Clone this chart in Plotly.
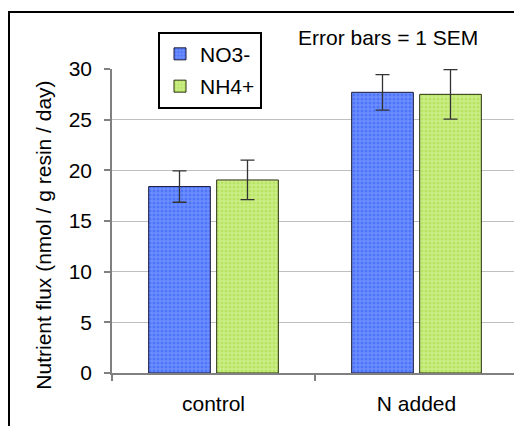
import plotly.graph_objects as go

categories = ["control", "N added"]
no3_values = [18.4, 27.7]
no3_err = [1.55, 1.75]
nh4_values = [19.05, 27.5]
nh4_err = [1.95, 2.45]
y_ticks = [0, 5, 10, 15, 20, 25, 30]

W, H = 514, 426
L, R, T, B = 112, 0, 69.3, 52.7
pw, ph = W - L - R, H - T - B

FONT = "Liberation Sans, Arial, sans-serif"

fig = go.Figure()
fig.add_trace(go.Bar(
    name="NO3-", x=categories, y=no3_values,
    marker=dict(color="#3f66f6", line=dict(color="#1a1a3a", width=1),
                pattern=dict(shape=".", size=4, solidity=0.45,
                             fgcolor="#2f5af5", bgcolor="#6d8efd")),
    error_y=dict(type="data", array=no3_err, color="#333333", thickness=1.3, width=7),
    legendgroup="a",
))
fig.add_trace(go.Bar(
    name="NH4+", x=categories, y=nh4_values,
    marker=dict(color="#b8e460", line=dict(color="#2a3010", width=1),
                pattern=dict(shape=".", size=4, solidity=0.45,
                             fgcolor="#a6dc3c", bgcolor="#cbed88")),
    error_y=dict(type="data", array=nh4_err, color="#333333", thickness=1.3, width=7),
    legendgroup="b",
))

x_end = 1.5 - 4 / 203.0

fig.update_layout(
    width=W, height=H,
    margin=dict(l=L, r=R, t=T, b=B, pad=0),
    paper_bgcolor="white", plot_bgcolor="white",
    font=dict(family=FONT, size=21, color="black"),
    barmode="group", bargap=0.33, bargroupgap=0.093,
    showlegend=True,
    legend=dict(
        x=(158 - L) / pw, y=(T + ph - 32) / ph, xanchor="left", yanchor="top",
        bordercolor="black", borderwidth=2, bgcolor="white",
        font=dict(family=FONT, size=21, color="black"),
        tracegroupgap=2, itemwidth=30, entrywidth=50,
    ),
    xaxis=dict(
        range=[-0.5, x_end], showgrid=False, showline=True, linecolor="#808080", linewidth=1.5,
        ticks="outside", tickson="boundaries", ticklen=6, tickcolor="#808080", tickwidth=1.5,
        ticklabelstandoff=11, tickfont=dict(size=21),
    ),
    yaxis=dict(
        range=[0, 30], tickvals=y_ticks, showgrid=True, gridcolor="#c0c0c0", gridwidth=1.2,
        showline=True, linecolor="#808080", linewidth=1.5, zeroline=False,
        ticks="outside", ticklen=6, tickcolor="#808080", tickwidth=1.5,
        ticklabelstandoff=8, tickfont=dict(size=21),
    ),
    shapes=[dict(
        type="rect", xref="paper", yref="paper",
        x0=(9 - L) / pw, x1=1.1, y0=-0.3, y1=(T + ph - 12.3) / ph,
        line=dict(color="black", width=2), fillcolor="rgba(0,0,0,0)", layer="above",
    )],
    annotations=[
        dict(text="Error bars = 1 SEM", xref="paper", yref="paper",
             x=(388 - L) / pw, y=(T + ph - 37.7) / ph, xanchor="center", yanchor="middle",
             showarrow=False, font=dict(size=21)),
        dict(text="Nutrient flux (nmol / g resin / day)", xref="paper", yref="paper",
             x=(44 - L) / pw, y=(T + ph - 236) / ph, xanchor="center", yanchor="middle",
             textangle=-90, showarrow=False, font=dict(size=21)),
    ],
)

fig.write_html("out.html")
